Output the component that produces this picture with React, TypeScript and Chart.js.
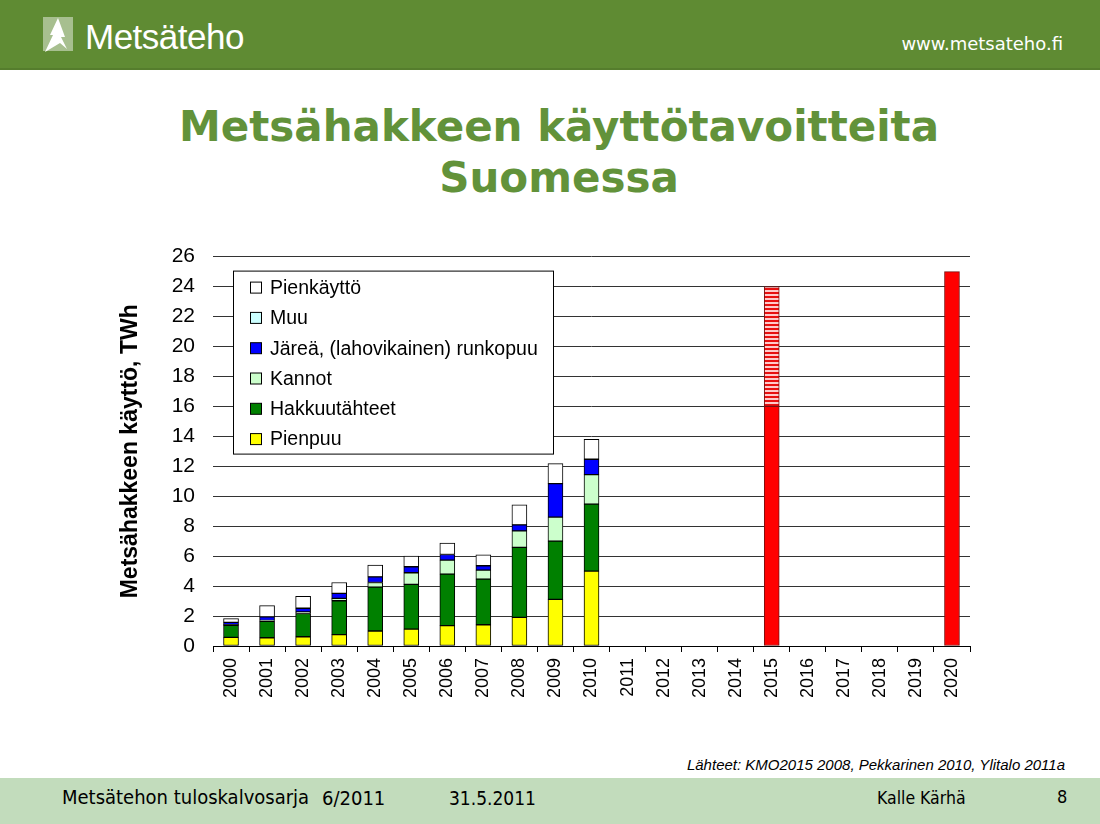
import React, { useEffect, useRef } from "react";
import { Chart, registerables } from "chart.js";

Chart.register(...registerables);

const years = ["2000","2001","2002","2003","2004","2005","2006","2007","2008","2009","2010","2011","2012","2013","2014","2015","2016","2017","2018","2019","2020"];
const N = null;
const pienpuu = [0.58,0.55,0.62,0.76,1.0,1.13,1.36,1.42,1.91,3.11,5.0,N,N,N,N,N,N,N,N,N,N];
const hakkuutahteet = [0.8,1.1,1.55,2.26,2.93,2.98,3.44,3.05,4.67,3.89,4.47,N,N,N,N,N,N,N,N,N,N];
const kannot = [0.05,0.05,0.1,0.16,0.31,0.78,0.93,0.6,1.11,1.6,1.97,N,N,N,N,N,N,N,N,N,N];
const jarea = [0.15,0.25,0.25,0.33,0.38,0.4,0.38,0.29,0.4,2.24,1.03,N,N,N,N,N,N,N,N,N,N];
const muu = [N,N,N,N,N,N,N,N,N,N,N,N,N,N,N,N,N,N,N,N,N];
const pienkaytto = [0.25,0.75,0.8,0.73,0.78,0.71,0.76,0.73,1.33,1.34,1.33,N,N,N,N,N,N,N,N,N,N];
const tavoite = [N,N,N,N,N,N,N,N,N,N,N,N,N,N,N,16,N,N,N,N,25];
const tavoiteVaihteluvali = [N,N,N,N,N,N,N,N,N,N,N,N,N,N,N,8,N,N,N,N,N];
const yTicks = [0,2,4,6,8,10,12,14,16,18,20,22,24,26];

const legendCount = 6;

const insideLegend = {
  id: "insideLegend",
  afterDraw(chart: any) {
    const ctx = chart.ctx;
    const ca = chart.chartArea;
    const x = ca.left + 20;
    const y = ca.top + 14;
    const w = 320;
    const h = 183;
    ctx.save();
    ctx.fillStyle = "#ffffff";
    ctx.fillRect(x, y, w, h);
    ctx.strokeStyle = "#000000";
    ctx.lineWidth = 1;
    ctx.strokeRect(x + 0.5, y + 0.5, w, h);
    const ds = chart.data.datasets.slice(0, legendCount).slice().reverse();
    ctx.font = "19.5px 'Liberation Sans', Arial, sans-serif";
    ctx.textBaseline = "middle";
    ds.forEach((d: any, i: number) => {
      const cy = y + 17 + i * 30.3;
      ctx.fillStyle = d.backgroundColor;
      ctx.fillRect(x + 17.5, cy - 5.5, 11, 11);
      ctx.strokeStyle = "#000";
      ctx.strokeRect(x + 17.5, cy - 5.5, 11, 11);
      ctx.fillStyle = "#000";
      ctx.fillText(d.label, x + 37, cy + 1);
    });
    ctx.restore();
  },
};

function ChartBox() {
  const ref = useRef<HTMLCanvasElement | null>(null);
  useEffect(() => {
    if (!ref.current) return;
    const pc = document.createElement("canvas");
    pc.width = 4;
    pc.height = 4;
    const pctx = pc.getContext("2d")!;
    pctx.fillStyle = "#e81010";
    pctx.fillRect(0, 0, 4, 4);
    pctx.fillStyle = "#ffcaca";
    pctx.fillRect(0, 0, 4, 2);
    const pattern = ref.current.getContext("2d")!.createPattern(pc, "repeat") || "#ff8080";

    const mk = (label: string, data: any[], color: any, border = "#000000") => ({
      label,
      data,
      backgroundColor: color,
      borderColor: border,
      borderWidth: 1,
      borderSkipped: false,
      barThickness: 15,
      stack: "s",
    });

    const chart = new Chart(ref.current, {
      type: "bar",
      data: {
        labels: years,
        datasets: [
          mk("Pienpuu", pienpuu, "#ffff00"),
          mk("Hakkuutähteet", hakkuutahteet, "#008000"),
          mk("Kannot", kannot, "#ccffcc"),
          mk("Järeä, (lahovikainen) runkopuu", jarea, "#0000ff"),
          mk("Muu", muu, "#ccffff"),
          mk("Pienkäyttö", pienkaytto, "#ffffff"),
          mk("Tavoite", tavoite, "#ff0000", "#7a1010"),
          mk("Tavoitteen vaihteluväli", tavoiteVaihteluvali, pattern, "#7a1010"),
        ] as any,
      },
      options: {
        animation: false,
        responsive: false,
        maintainAspectRatio: false,
        layout: { padding: { left: 15, top: 10, right: 20, bottom: 0 } },
        plugins: { legend: { display: false }, tooltip: { enabled: false } },
        scales: {
          x: {
            stacked: true,
            grid: { offset: true, drawOnChartArea: false, drawTicks: true, tickLength: 6, color: "#000", lineWidth: 1 },
            border: { display: true, color: "#000", width: 1 },
            ticks: {
              minRotation: 90,
              maxRotation: 90,
              autoSkip: false,
              padding: 6,
              color: "#000",
              font: { size: 18, family: "'Liberation Sans', Arial, sans-serif" },
            },
            afterFit(scale: any) { scale.height = 70; },
          },
          y: {
            stacked: true,
            min: 0,
            max: 26,
            afterBuildTicks(scale: any) { scale.ticks = yTicks.map((v) => ({ value: v })); },
            grid: { drawTicks: false, color: "#333", lineWidth: 1 },
            border: { display: false },
            ticks: {
              padding: 18,
              color: "#000",
              font: { size: 21, family: "'Liberation Sans', Arial, sans-serif" },
            },
            title: {
              display: true,
              text: "Metsähakkeen käyttö, TWh",
              color: "#000",
              padding: { top: 2, bottom: 4 },
              font: { size: 23, weight: "bold", family: "'Liberation Sans', Arial, sans-serif" },
            },
            afterFit(scale: any) { scale.width = 98; },
          },
        },
      } as any,
      plugins: [insideLegend],
    });
    return () => chart.destroy();
  }, []);
  return (
    <canvas
      ref={ref}
      width={890}
      height={490}
      style={{ position: "absolute", left: 100, top: 226, width: 890, height: 490 }}
    />
  );
}

const footFont = "'DejaVu Sans Condensed', 'DejaVu Sans', sans-serif";

export default function App() {
  const green = "#5f8b33";
  return (
    <div style={{ position: "fixed", left: 0, top: 0, width: 1100, height: 824, background: "#fff", overflow: "hidden", fontFamily: "'Liberation Sans', Arial, sans-serif" }}>
      <div style={{ position: "absolute", left: 0, top: 0, width: 1100, height: 68, background: green, borderBottom: "2px solid #557d2d" }} />
      <svg width={40} height={42} style={{ position: "absolute", left: 40, top: 13 }}>
        <rect x={3} y={4} width={30} height={34} fill="rgba(255,255,255,0.45)" />
        <polygon points="5,39 13,22 10,22 18,5 25,24 21,24 27,36 20,30" fill="#ffffff" />
      </svg>
      <div style={{ position: "absolute", left: 85, top: 15, color: "#fff", fontSize: 35, fontFamily: "'Liberation Sans', Arial, sans-serif", lineHeight: "44px", letterSpacing: -0.5 }}>Metsäteho</div>
      <div style={{ position: "absolute", right: 37, top: 33, color: "#fff", fontSize: 18, fontFamily: "'DejaVu Sans', Verdana, sans-serif", lineHeight: "22px" }}>www.metsateho.fi</div>
      <div style={{ position: "absolute", left: 0, top: 101, width: 1118, textAlign: "center", color: "#62923a", fontSize: 42, fontWeight: "bold", fontFamily: "'DejaVu Sans', Verdana, sans-serif", lineHeight: "51px" }}>
        Metsähakkeen käyttötavoitteita<br />Suomessa
      </div>
      <ChartBox />
      <div style={{ position: "absolute", right: 35, top: 756, color: "#000", fontSize: 15, fontStyle: "italic", lineHeight: "18px" }}>Lähteet: KMO2015 2008, Pekkarinen 2010, Ylitalo 2011a</div>
      <div style={{ position: "absolute", left: 0, top: 778, width: 1100, height: 46, background: "#c2dcbc" }} />
      <div style={{ position: "absolute", left: 62, top: 785, fontSize: 20, fontFamily: footFont, lineHeight: "24px" }}>Metsätehon tuloskalvosarja</div>
      <div style={{ position: "absolute", left: 322, top: 786, fontSize: 20, fontFamily: footFont, lineHeight: "24px" }}>6/2011</div>
      <div style={{ position: "absolute", left: 449, top: 786, fontSize: 19, fontFamily: footFont, lineHeight: "24px" }}>31.5.2011</div>
      <div style={{ position: "absolute", left: 877, top: 787, fontSize: 17.5, fontFamily: footFont, lineHeight: "22px" }}>Kalle Kärhä</div>
      <div style={{ position: "absolute", left: 1057, top: 785, fontSize: 18, fontFamily: footFont, lineHeight: "24px" }}>8</div>
    </div>
  );
}
